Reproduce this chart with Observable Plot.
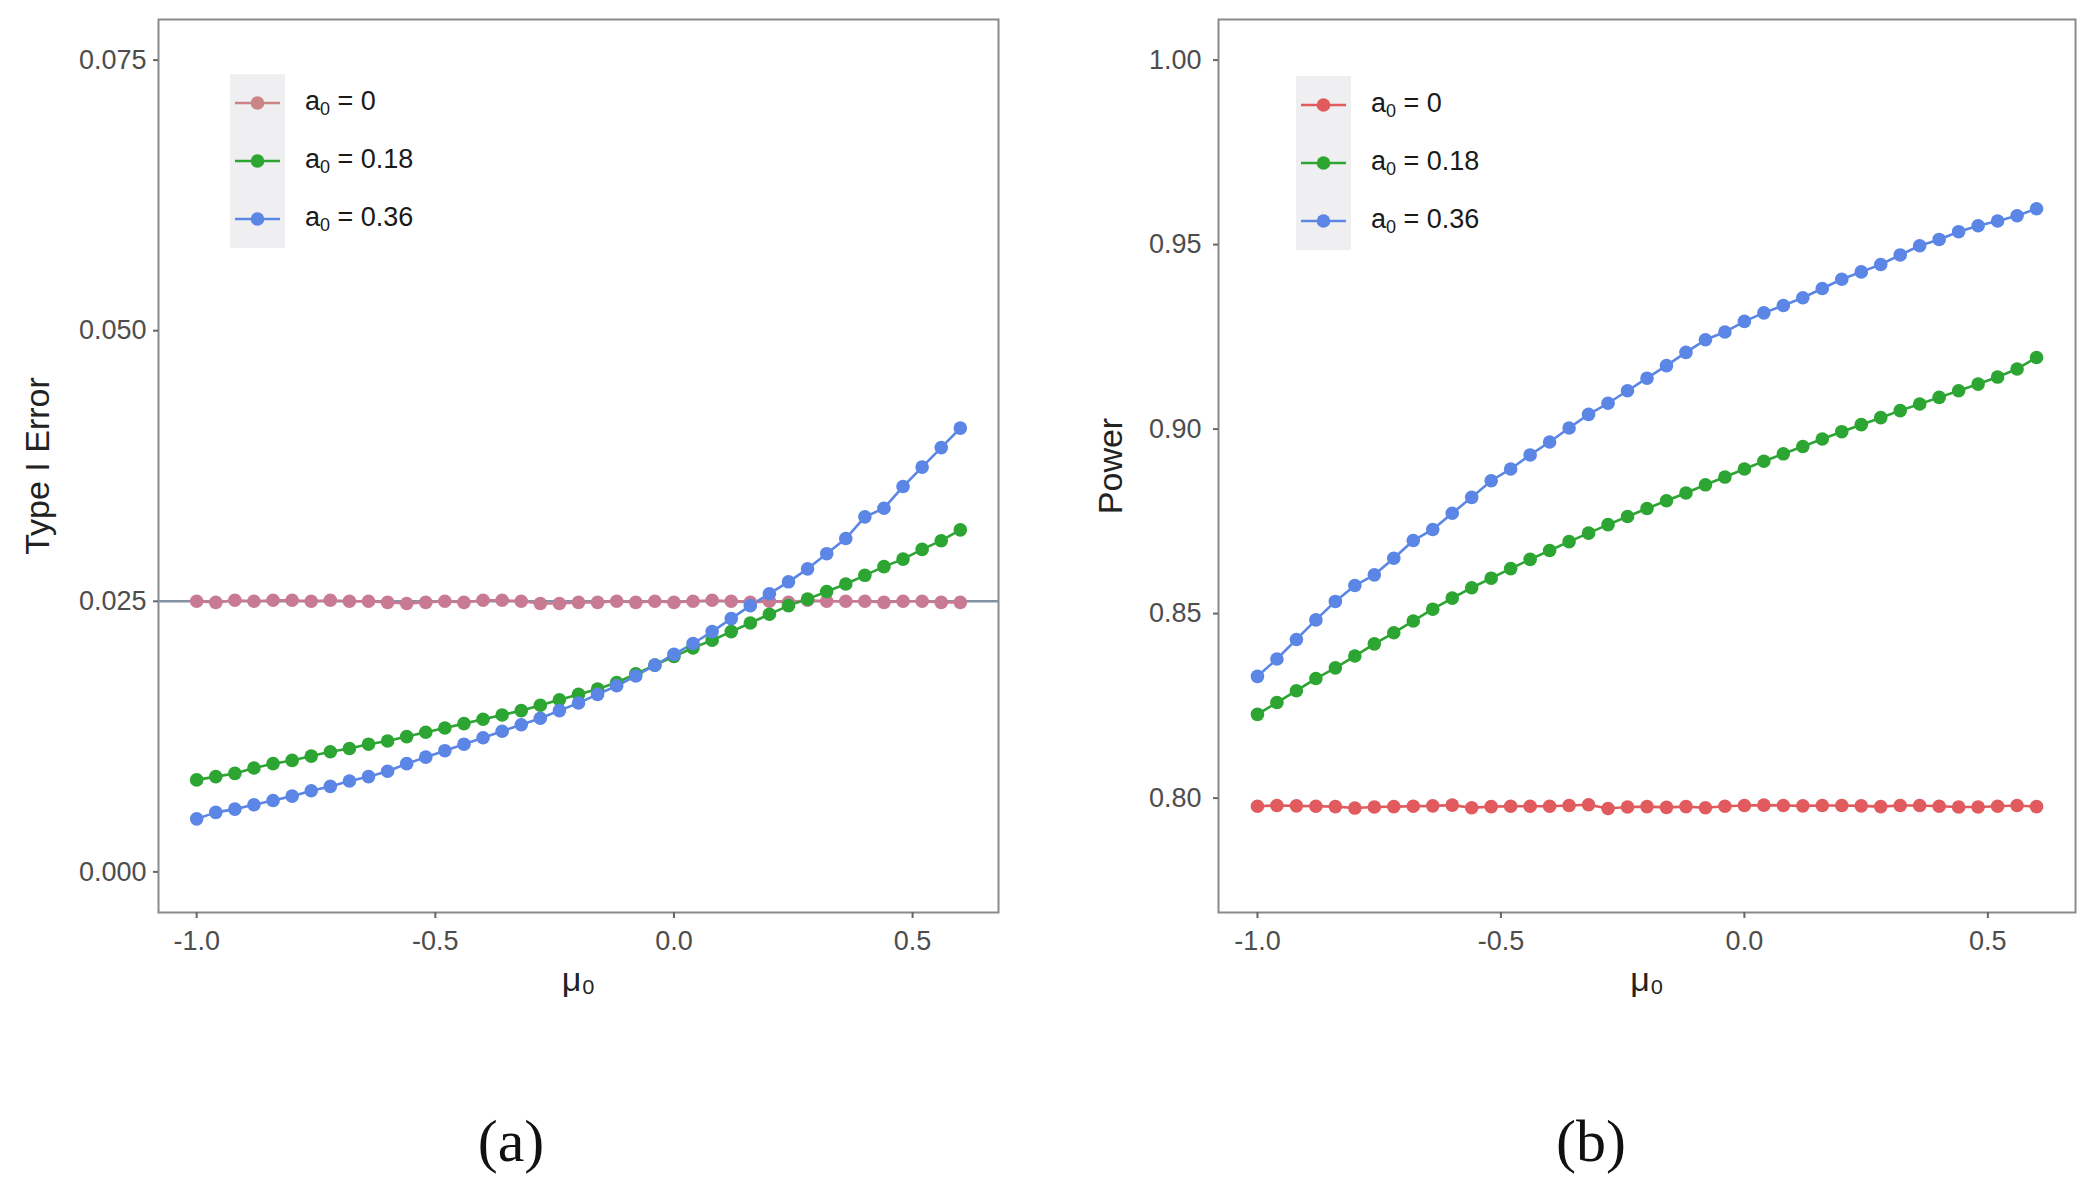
<!DOCTYPE html>
<html><head><meta charset="utf-8">
<script src="https://cdn.jsdelivr.net/npm/d3@7"></script>
<script src="https://cdn.jsdelivr.net/npm/@observablehq/plot@0.6"></script>
<style>
body{margin:0;background:#fff;font-family:"Liberation Sans",Arial,sans-serif}
#root{position:relative;width:2100px;height:1199px;overflow:hidden;background:#fff}
.panel{position:absolute;top:0}
.legend{position:absolute}
.lrow{position:absolute;left:0;height:58px;display:flex;align-items:center;white-space:nowrap}
.lkey{width:55px;height:58px;background:#efeff1;display:block}
.ltext{font-size:27px;color:#1a1a1a;margin-left:20px}
.caption{position:absolute;font-family:"Liberation Serif","DejaVu Serif",serif;font-size:60px;color:#111;transform:translate(-50%,-50%)}
</style></head><body><div id="root"></div><script>
const mu = [-1.00,-0.96,-0.92,-0.88,-0.84,-0.80,-0.76,-0.72,-0.68,-0.64,-0.60,-0.56,-0.52,-0.48,-0.44,-0.40,-0.36,-0.32,-0.28,-0.24,-0.20,-0.16,-0.12,-0.08,-0.04,0.00,0.04,0.08,0.12,0.16,0.20,0.24,0.28,0.32,0.36,0.40,0.44,0.48,0.52,0.56,0.60];
const seriesNames = ["a₀ = 0","a₀ = 0.18","a₀ = 0.36"];
const xTicks = [-1.0,-0.5,0.0,0.5];

// Panel (a): Type I Error
const typeI_a0 = [0.0250,0.0249,0.0251,0.0250,0.0251,0.0251,0.0250,0.0251,0.0250,0.0250,0.0249,0.0248,0.0249,0.0250,0.0249,0.0251,0.0251,0.0250,0.0248,0.0248,0.0249,0.0249,0.0250,0.0249,0.0250,0.0249,0.0250,0.0251,0.0250,0.0249,0.0250,0.0249,0.0251,0.0250,0.0250,0.0250,0.0249,0.0250,0.0250,0.0249,0.0249];
const typeI_a018 = [0.0085,0.0088,0.0091,0.0096,0.0100,0.0103,0.0107,0.0111,0.0114,0.0118,0.0121,0.0125,0.0129,0.0133,0.0137,0.0141,0.0145,0.0149,0.0154,0.0159,0.0164,0.0169,0.0175,0.0183,0.0191,0.0199,0.0207,0.0214,0.0222,0.0230,0.0238,0.0246,0.0252,0.0259,0.0266,0.0274,0.0282,0.0289,0.0298,0.0306,0.0316];
const typeI_a036 = [0.0049,0.0055,0.0058,0.0062,0.0066,0.0070,0.0075,0.0079,0.0084,0.0088,0.0093,0.0100,0.0106,0.0112,0.0118,0.0124,0.0130,0.0136,0.0142,0.0149,0.0156,0.0164,0.0172,0.0181,0.0191,0.0201,0.0211,0.0222,0.0234,0.0246,0.0257,0.0268,0.0280,0.0294,0.0308,0.0328,0.0336,0.0356,0.0374,0.0392,0.0410];
const typeITicks = [0.000,0.025,0.050,0.075];

// Panel (b): Power
const power_a0 = [0.7978,0.7980,0.7979,0.7978,0.7977,0.7973,0.7976,0.7977,0.7978,0.7979,0.7981,0.7974,0.7977,0.7978,0.7978,0.7978,0.7980,0.7982,0.7972,0.7976,0.7977,0.7975,0.7977,0.7974,0.7978,0.7980,0.7981,0.7980,0.7979,0.7980,0.7980,0.7979,0.7977,0.7980,0.7980,0.7978,0.7976,0.7976,0.7978,0.7980,0.7977];
const power_a018 = [0.8227,0.8259,0.8291,0.8324,0.8353,0.8385,0.8418,0.8448,0.8480,0.8512,0.8542,0.8570,0.8596,0.8622,0.8647,0.8671,0.8695,0.8718,0.8741,0.8763,0.8785,0.8806,0.8827,0.8849,0.8870,0.8892,0.8913,0.8933,0.8953,0.8973,0.8993,0.9012,0.9031,0.9050,0.9068,0.9086,0.9104,0.9122,0.9141,0.9163,0.9194];
const power_a036 = [0.8330,0.8377,0.8430,0.8483,0.8533,0.8576,0.8605,0.8650,0.8698,0.8728,0.8772,0.8815,0.8860,0.8892,0.8930,0.8965,0.9003,0.9040,0.9070,0.9104,0.9138,0.9172,0.9208,0.9242,0.9263,0.9292,0.9315,0.9335,0.9356,0.9381,0.9406,0.9426,0.9446,0.9472,0.9497,0.9514,0.9535,0.9551,0.9564,0.9578,0.9597];
const powerTicks = [0.80,0.85,0.90,0.95,1.00];

function toRows(arrs){
  const rows=[];
  arrs.forEach((arr,k)=>arr.forEach((v,i)=>rows.push({mu:mu[i], v, s:seriesNames[k]})));
  return rows;
}

const root = document.getElementById("root");

function makePanel(o){
  const rows = toRows(o.series);
  const frameW = o.frameRight - o.frameLeft;
  const marginLeft = o.frameLeft - o.left;
  const chart = Plot.plot({
    width: o.width, height: 1000,
    marginLeft, marginRight: o.width - marginLeft - frameW, marginTop: 19, marginBottom: 88,
    style: {fontFamily: "'Liberation Sans', Arial, sans-serif", background: "transparent", overflow: "visible"},
    x: {domain: [-1.08, 0.68]},
    y: {domain: o.yDomain},
    color: {domain: seriesNames, range: o.colors},
    marks: [
      Plot.frame({stroke: "#8a8a8a", strokeWidth: 2}),
      o.hline != null ? Plot.ruleY([o.hline], {stroke: "#8592a6", strokeWidth: 2.4}) : null,
      Plot.line(rows, {x: "mu", y: "v", z: "s", stroke: "s", strokeWidth: 2.6}),
      Plot.dot(rows, {x: "mu", y: "v", fill: "s", r: 6.8}),
      Plot.axisX({ticks: xTicks, tickFormat: d => d.toFixed(1), tickSize: 6, tickPadding: 12, fontSize: 27, stroke: "#666", strokeWidth: 2, fill: "#4d4d4d", label: null}),
      Plot.axisY({ticks: o.yTicks, tickFormat: o.yFmt, tickSize: 5, tickPadding: o.yPad, fontSize: 27, stroke: "#666", strokeWidth: 2, fill: "#4d4d4d", label: null}),
      Plot.text([o.xlabel], {text: d => d, frameAnchor: "bottom", dy: 68, lineAnchor: "middle", textAnchor: "middle", fontSize: 34, fill: "#222"}),
      Plot.text([o.ylabel], {text: d => d, frameAnchor: "left", dx: o.ylabelDx, rotate: -90, lineAnchor: "middle", textAnchor: "middle", fontSize: 34, fill: "#222"})
    ]
  });
  const wrap = document.createElement("div");
  wrap.className = "panel";
  wrap.style.left = o.left + "px";
  wrap.appendChild(chart);
  root.appendChild(wrap);

  // legend
  const lg = document.createElement("div");
  lg.className = "legend";
  lg.style.left = o.legendLeft + "px";
  lg.style.top = o.legendTop + "px";
  seriesNames.forEach((name, k) => {
    const row = document.createElement("div");
    row.className = "lrow";
    row.style.top = (k * 58) + "px";
    const c = o.legendColors[k];
    row.innerHTML = `<svg class="lkey" width="55" height="58"><rect width="55" height="58" fill="#efeff1"/><line x1="5" x2="50" y1="29" y2="29" stroke="${c}" stroke-width="2.6"/><circle cx="27.5" cy="29" r="6.8" fill="${c}"/></svg><span class="ltext">a<sub style="font-size:18px;vertical-align:-5px">0</sub> = ${name.split("= ")[1]}</span>`;
    lg.appendChild(row);
  });
  root.appendChild(lg);
}

makePanel({
  left: 0, width: 1010, frameLeft: 158, frameRight: 998,
  series: [typeI_a0, typeI_a018, typeI_a036],
  yDomain: [-0.00375, 0.07875], yTicks: typeITicks, yFmt: d => d.toFixed(3), yPad: 7,
  colors: ["#c97a93", "#2ca532", "#5b86e5"],
  legendColors: ["#c98585", "#2ca532", "#5b86e5"],
  hline: 0.025,
  xlabel: "μ₀", ylabel: "Type I Error", ylabelDx: -120,
  legendLeft: 230, legendTop: 74
});

makePanel({
  left: 1060, width: 1040, frameLeft: 1218, frameRight: 2075,
  series: [power_a0, power_a018, power_a036],
  yDomain: [0.769, 1.011], yTicks: powerTicks, yFmt: d => d.toFixed(2), yPad: 12,
  colors: ["#e05a5e", "#2ca532", "#5b86e5"],
  legendColors: ["#e05a5e", "#2ca532", "#5b86e5"],
  hline: null,
  xlabel: "μ₀", ylabel: "Power", ylabelDx: -107,
  legendLeft: 1296, legendTop: 76
});

[["(a)", 511], ["(b)", 1591]].forEach(([t, x]) => {
  const d = document.createElement("div");
  d.className = "caption";
  d.textContent = t;
  d.style.left = x + "px";
  d.style.top = "1141px";
  root.appendChild(d);
});
</script></body></html>
